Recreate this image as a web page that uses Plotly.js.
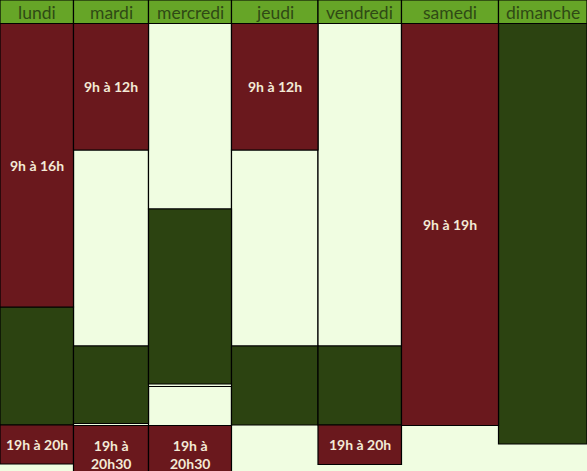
<!DOCTYPE html>
<html>
<head>
<meta charset="utf-8">
<script src="https://cdn.plot.ly/plotly-3.0.1.min.js"></script>
<style>
  html, body { margin: 0; padding: 0; background: #f0fde1; }
  #planning { width: 587px; height: 471px; }
</style>
</head>
<body>
<div id="planning"></div>
<script>
// jours de la semaine et largeur de chaque colonne
const jours = ["lundi", "mardi", "mercredi", "jeudi", "vendredi", "samedi", "dimanche"];
const largeurs = [73.5, 75, 83, 86.5, 83.5, 97, 88.5];
const hauteurEntete = 23.5;

// créneaux : jour, début, fin, type, libellé
const segJour  = [0, 0, 0,   1, 1, 1, 1,   2, 2, 2, 2,   3, 3, 3,   4, 4, 4,   5,   6];
const segDebut = [23.5, 307, 425,   23.5, 150, 346, 425.5,   23.5, 209, 386.5, 425.5,   23.5, 150, 346,   23.5, 346, 425,   23.5,   23.5];
const segFin   = [307, 425, 464,   150, 346, 423.5, 483,   209, 384, 425.5, 483,   150, 346, 425,   346, 425, 464.5,   425.5,   444];
const segType  = ["cours", "ferme", "cours",   "cours", "libre", "ferme", "cours",   "libre", "ferme", "libre", "cours",
                  "cours", "libre", "ferme",   "libre", "ferme", "cours",   "cours",   "ferme"];
const segTexte = ["9h à 16h", "", "19h à 20h",   "9h à 12h", "", "", "19h à<br>20h30",   "", "", "", "19h à<br>20h30",
                  "9h à 12h", "", "",   "", "", "19h à 20h",   "9h à 19h",   ""];

const couleurs = { cours: "#6a181d", ferme: "#2c4311", libre: "#f0fde1" };

// position des colonnes
let gauche = [];
let acc = 0;
for (i = 0; i < largeurs.length; i++) {
    gauche.push(acc);
    acc += largeurs[i];
}
const centres = largeurs.map((l, i) => gauche[i] + l / 2);

let data = [];

// bandeau des jours
data.push({
    type: "bar",
    x: centres,
    y: jours.map(() => hauteurEntete),
    base: jours.map(() => 0),
    width: largeurs,
    marker: { color: "#66a527", line: { color: "#000", width: 1.2 } },
    hoverinfo: "skip"
});

["libre", "ferme", "cours"].forEach(type => {
    let xs = [], ys = [], bs = [], ws = [];
    for (i = 0; i < segJour.length; i++) {
        if (segType[i] != type) continue;
        xs.push(centres[segJour[i]]);
        bs.push(segDebut[i]);
        ys.push(segFin[i] - segDebut[i]);
        ws.push(largeurs[segJour[i]]);
    }
    data.push({
        type: "bar",
        x: xs,
        y: ys,
        base: bs,
        width: ws,
        marker: { color: couleurs[type], line: { color: "#000", width: 1.2 } },
        hoverinfo: "skip"
    });
});

let annotations = [];
jours.forEach((jour, i) => {
    annotations.push({
        x: centres[i], y: hauteurEntete / 2 + 1, xref: "x", yref: "y",
        text: jour, showarrow: false,
        font: { family: "Lato, sans-serif", size: 17.5, color: "#2f4a15" }
    });
});
for (i = 0; i < segTexte.length; i++) {
    if (!segTexte[i]) continue;
    annotations.push({
        x: centres[segJour[i]], y: (segDebut[i] + segFin[i]) / 2, xref: "x", yref: "y",
        text: segTexte[i], showarrow: false,
        font: { family: "Lato, sans-serif", size: 14, color: "#f3ead6", weight: "bold" }
    });
}

const layout = {
    width: 587,
    height: 471,
    margin: { l: 0, r: 0, t: 0, b: 0 },
    paper_bgcolor: "#f0fde1",
    plot_bgcolor: "#f0fde1",
    barmode: "overlay",
    showlegend: false,
    xaxis: { range: [0, 587], visible: false, fixedrange: true },
    yaxis: { range: [471, 0], visible: false, fixedrange: true },
    annotations: annotations
};

Plotly.newPlot("planning", data, layout, { staticPlot: true, displayModeBar: false });
</script>
</body>
</html>
